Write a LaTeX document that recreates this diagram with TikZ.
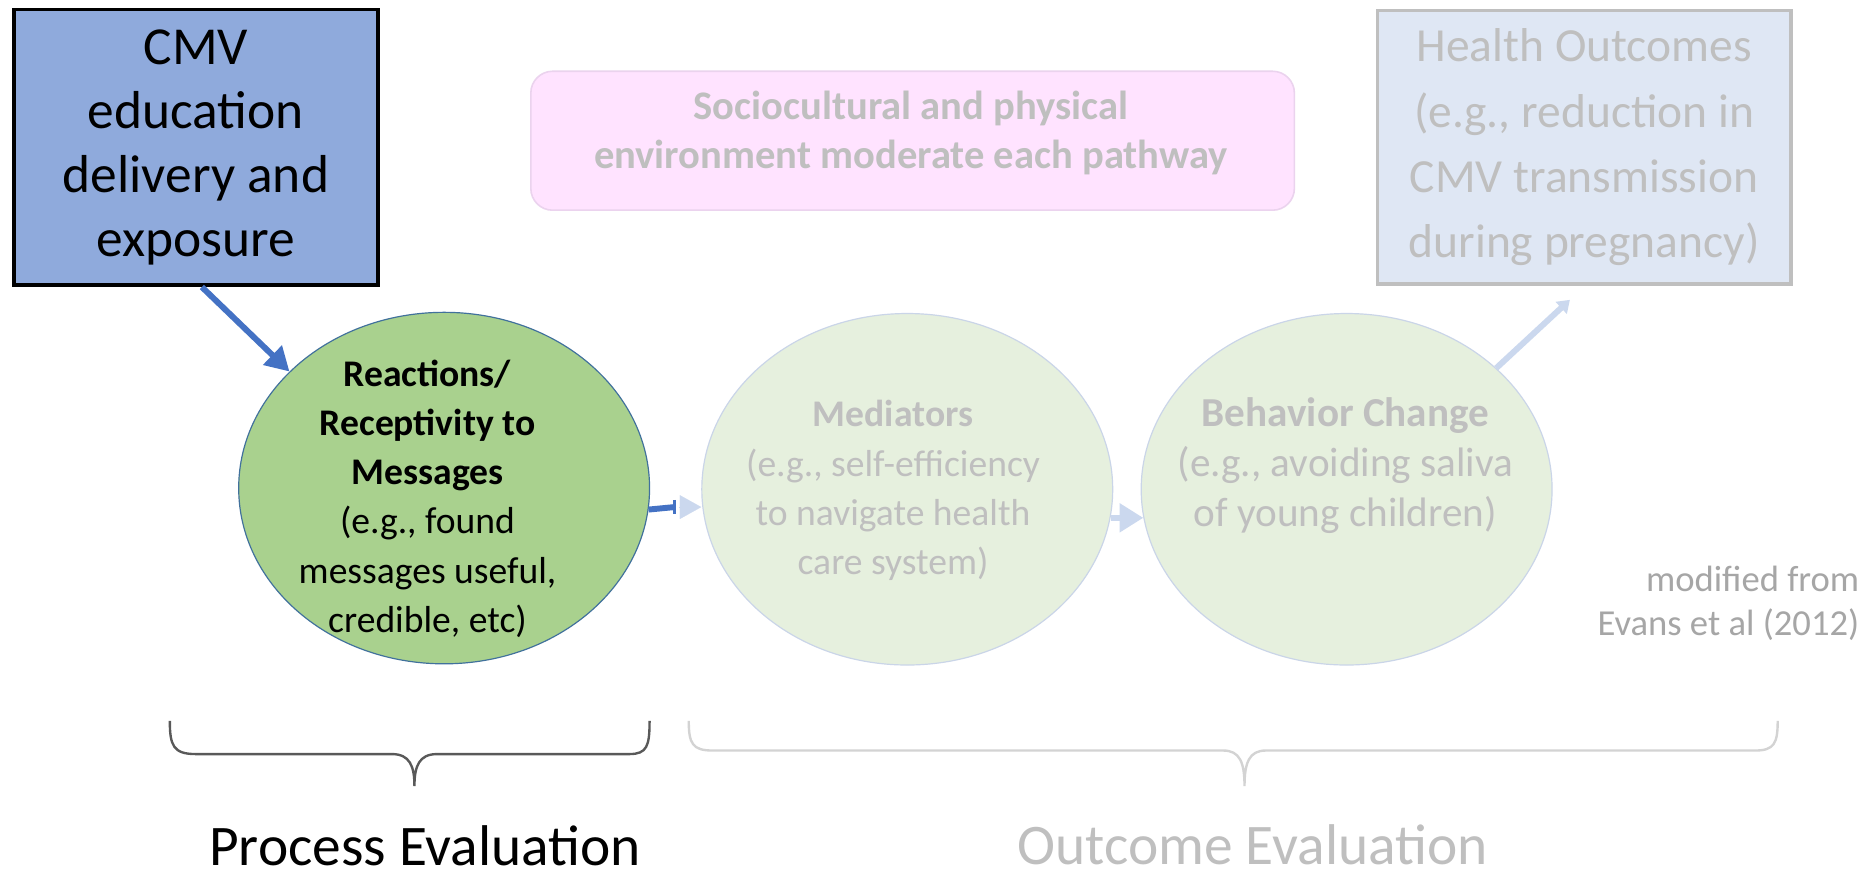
\documentclass[tikz,border=0pt]{standalone}
\usepackage{fontspec}
\setmainfont{Carlito}
\usetikzlibrary{arrows.meta,shapes.geometric,calc}
\definecolor{cmvfill}{HTML}{8FAADC}
\definecolor{arrowblue}{HTML}{4472C4}
\definecolor{greenfill}{HTML}{A9D18E}
\definecolor{greenline}{HTML}{41719C}
\definecolor{palefill}{HTML}{E6F0DE}
\definecolor{paleline}{HTML}{CAD5E8}
\definecolor{pinkfill}{HTML}{FFE3FF}
\definecolor{pinkline}{HTML}{EBD3EE}
\definecolor{healthfill}{HTML}{DFE7F4}
\definecolor{healthline}{HTML}{BFBFBF}
\definecolor{fadetext}{HTML}{BFBFBF}
\definecolor{evanstext}{HTML}{A6A6A6}
\definecolor{palearrow}{HTML}{CBD8EE}
\definecolor{bracedark}{HTML}{595959}
\definecolor{bracelight}{HTML}{D3D3D3}
\begin{document}
\begin{tikzpicture}[x=0.6pt,y=-0.6pt,
  bigcircle/.style={ellipse,inner sep=0pt,minimum width=207.6pt,minimum height=177.6pt,line width=0.6pt},
  circtext/.style={align=center,font=\fontsize{19}{24.8}\selectfont,inner sep=0pt},
  bluearrow/.style={draw=arrowblue,line width=3pt,-{Triangle[length=12pt,width=13pt]}},
  palearrowst/.style={draw=palearrow,line width=3pt,-{Triangle[length=12pt,width=14pt]}},
  evaltext/.style={font=\fontsize{29}{34}\selectfont,inner sep=0pt}]
\path[use as bounding box,fill=white] (0,0) rectangle (1568,740);

% boxes
\node[draw=black,line width=2pt,fill=cmvfill,minimum width=183.6pt,minimum height=139.2pt,
  align=center,inner sep=0pt,font=\fontsize{27}{32.3}\selectfont] (cmv) at (165,124)
  {CMV\\education\\delivery and\\exposure};
\node[draw=pinkline,line width=0.8pt,fill=pinkfill,rounded corners=11pt,minimum width=385.8pt,
  minimum height=70.2pt,inner sep=0pt] (pink) at (768.5,118.5) {};
\node[text=fadetext,align=center,inner sep=0pt,font=\bfseries\fontsize{20.5}{25.2}\selectfont] (pinktext) at (767,112)
  {Sociocultural and physical\\environment moderate each pathway};
\node[draw=healthline,line width=1.8pt,fill=healthfill,minimum width=208.8pt,minimum height=138pt,
  align=center,inner sep=0pt,text=fadetext,font=\fontsize{24}{33}\selectfont] (health) at (1334,124)
  {Health Outcomes\\(e.g., reduction in\\CMV transmission\\during pregnancy)};

% circles
\node[bigcircle,draw=greenline,fill=greenfill] (green) at (374,411) {};
\node[circtext] (greentext) at (360,420)
  {\textbf{Reactions/}\\\textbf{Receptivity to}\\\textbf{Messages}\\(e.g., found\\messages useful,\\credible, etc)};
\node[bigcircle,draw=paleline,fill=palefill] (med) at (764,412) {};
\node[circtext,text=fadetext] (medtext) at (752,413)
  {\textbf{Mediators}\\(e.g., self-efficiency\\to navigate health\\care system)};
\node[bigcircle,draw=paleline,fill=palefill] (beh) at (1134,412) {};
\node[circtext,text=fadetext,font=\fontsize{20.8}{25.2}\selectfont] (behtext) at (1133,392)
  {\textbf{Behavior Change}\\(e.g., avoiding saliva\\of young children)};

% connectors
\coordinate (cmvout) at ($(cmv.south west)!0.516!(cmv.south east)$);
\draw[bluearrow] (cmvout) -- (green.143);
\coordinate (shaftend) at (568,427);
\coordinate (headbase) at (572,427);
\draw[draw=arrowblue,line width=3pt] (green.-6) -- (shaftend);
\draw[draw=arrowblue,line width=1.2pt] ($(shaftend)+(0,-6)$) -- ($(shaftend)+(0,6)$);
\draw[draw=palearrow,line width=0.1pt,-{Triangle[length=10.8pt,width=12pt]}] (headbase) -- (med.west |- headbase);
\draw[palearrowst] (med.-8) -- (beh.188);
\coordinate (hend) at ($(health.south)+(-12,12)$);
\draw[draw=palearrow,line width=3pt,-{Triangle[length=6pt,width=8pt]}] (beh.39) -- (hend);

% braces
\draw[draw=bracedark,line width=1.2pt] (143,607) .. controls (143,628) and (146,635) .. (165,635) -- (330,635)
  .. controls (345,635) and (349,645) .. (349,662) .. controls (349,645) and (353,635) .. (368,635)
  -- (530,635) .. controls (545,635) and (547,628) .. (547,607);
\draw[draw=bracelight,line width=1.2pt] (580,607) .. controls (580,626) and (583,632) .. (600,632) -- (1030,632)
  .. controls (1044,632) and (1048,642) .. (1048,662) .. controls (1048,642) and (1052,632) .. (1066,632)
  -- (1478,632) .. controls (1494,632) and (1497,626) .. (1497,607);

% labels
\node[evaltext,text=black] (process) at (358,712) {Process Evaluation};
\node[evaltext,text=fadetext] (outcome) at (1055,711) {Outcome Evaluation};
\node[anchor=east,align=right,inner sep=0pt,text=evanstext,font=\fontsize{18.5}{22}\selectfont] (evans) at (1566,508)
  {modified from\\Evans et al (2012)};
\end{tikzpicture}
\end{document}
